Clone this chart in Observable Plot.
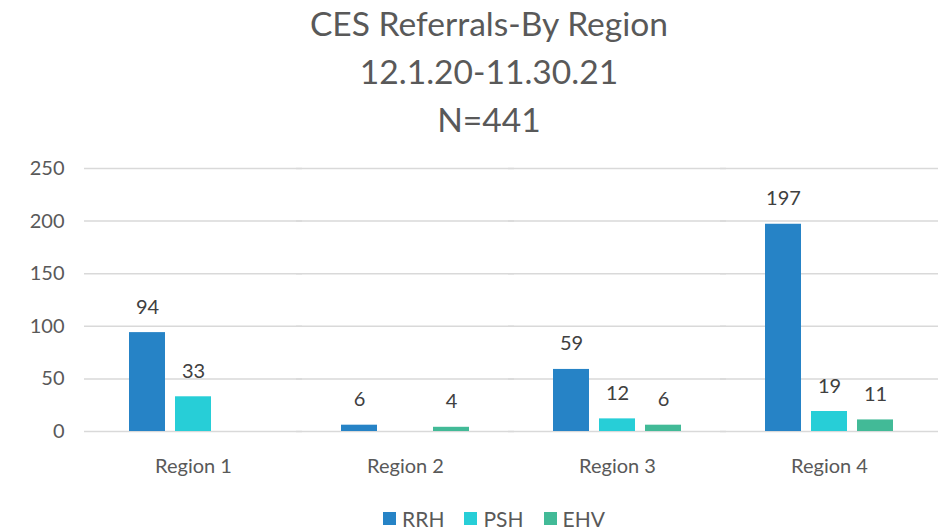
<!DOCTYPE html>
<html><head><meta charset="utf-8">
<script src="https://cdn.jsdelivr.net/npm/d3@7"></script>
<script src="https://cdn.jsdelivr.net/npm/@observablehq/plot@0.6"></script>
<style>
body{margin:0;background:#fff;font-family:Lato, "Open Sans", sans-serif;color:#595959;width:940px;overflow:hidden}
#title{text-align:center;font-size:33.6px;line-height:48px;height:146px;margin-top:-1px;padding-left:38px}
#legend{display:flex;justify-content:center;align-items:center;height:24px;font-size:21px;color:#595959;padding-left:48px}
#legend .item{display:flex;align-items:center;margin:0 10px}
#legend .sw{width:13px;height:13px;margin-right:6px}
svg{display:block}
</style></head><body>
<div id="title">CES Referrals-By Region<br>12.1.20-11.30.21<br>N=441</div>
<div id="chart"></div>
<div id="legend"></div>
<script>
const regions = ["Region 1", "Region 2", "Region 3", "Region 4"];
const series = ["RRH", "PSH", "EHV"];
const rrh = [94, 6, 59, 197];
const psh = [33, null, 12, 19];
const ehv = [null, 4, 6, 11];
const colors = ["#2683C6", "#27CED7", "#42BA97"];
const yTicks = [0, 50, 100, 150, 200, 250];

const data = [];
regions.forEach((r, i) => {
  [rrh, psh, ehv].forEach((arr, j) => {
    if (arr[i] != null) data.push({region: r, series: series[j], value: arr[i]});
  });
});

const chart = Plot.plot({
  width: 940,
  height: 361,
  marginLeft: 84,
  marginRight: 2,
  marginTop: 23,
  marginBottom: 75,
  style: {fontFamily: "Lato, 'Open Sans', sans-serif", fontSize: "20px", color: "#595959", background: "#fff"},
  fx: {domain: regions, paddingInner: 0.385, paddingOuter: 0.2, label: null},
  x: {domain: series, paddingInner: 0.213, paddingOuter: 0, axis: null},
  y: {domain: [0, 250], ticks: yTicks, label: null},
  color: {domain: series, range: colors},
  marks: [
    Plot.ruleY(yTicks, {stroke: "#d9d9d9", strokeWidth: 1.5, insetLeft: -44, insetRight: -44}),
    Plot.barY(data, {fx: "region", x: "series", y: "value", fill: "series"}),
    Plot.text(data, {fx: "region", x: "series", y: "value", text: "value", dy: -19, lineAnchor: "bottom", fill: "#404040", fontSize: 20}),
    Plot.axisY(yTicks, {tickSize: 0, tickPadding: 64, fill: "#595959", fontSize: 20, label: null}),
    Plot.axisFx({anchor: "bottom", tickSize: 0, tickPadding: 27, fill: "#595959", fontSize: 20, label: null})
  ]
});
document.getElementById("chart").appendChild(chart);

const legend = document.getElementById("legend");
series.forEach((s, i) => {
  const item = document.createElement("div");
  item.className = "item";
  const sw = document.createElement("div");
  sw.className = "sw";
  sw.style.background = colors[i];
  const label = document.createElement("span");
  label.textContent = s;
  item.appendChild(sw);
  item.appendChild(label);
  legend.appendChild(item);
});
</script>
</body></html>
